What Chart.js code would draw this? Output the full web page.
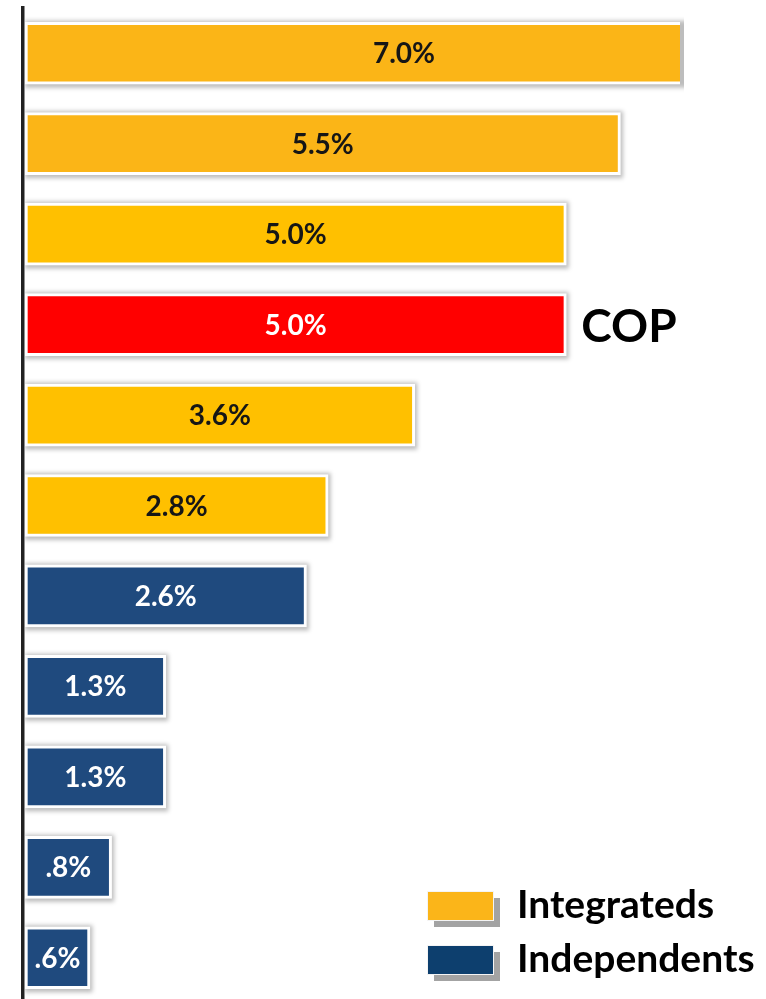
<!DOCTYPE html>
<html>
<head>
<meta charset="utf-8">
<script src="https://cdn.jsdelivr.net/npm/chart.js@4/dist/chart.umd.min.js"></script>
<style>
  html, body { margin: 0; padding: 0; background: #ffffff; overflow: hidden; }
  #wrap { width: 766px; height: 1010px; }
</style>
</head>
<body>
<div id="wrap"><canvas id="chart" width="766" height="1010"></canvas></div>
<script>
// Peer group, ranked from highest to lowest
const companies = ['Peer A', 'Peer B', 'Peer C', 'COP', 'Peer D', 'Peer E',
                   'Peer F', 'Peer G', 'Peer H', 'Peer I', 'Peer J'];

// Values in percent
const integratedValues  = [7.0, 5.5, 5.0, 5.0, 3.6, 2.8, null, null, null, null, null];
const independentValues = [null, null, null, null, null, null, 2.6, 1.3, 1.3, 0.8, 0.6];

const highlighted = 'COP';

// Styling
const integratedColors = ['#FBB517', '#FBB517', '#FFC000', '#FF0000', '#FFC000', '#FFC000',
                          '#FFC000', '#FFC000', '#FFC000', '#FFC000', '#FFC000'];
const integratedTextColors = ['#161616', '#161616', '#161616', '#FFFFFF', '#161616', '#161616',
                              '#161616', '#161616', '#161616', '#161616', '#161616'];
const independentColor = '#1F4A7E';
const legendSwatches = { Integrateds: '#FBB519', Independents: '#0D3F6E' };

const FONT = 'Lato, "Open Sans", "DejaVu Sans", sans-serif';

function formatPct(v) {
  const s = v.toFixed(1);
  return (v < 1 ? s.replace(/^0/, '') : s) + '%';
}

// soft drop shadow under each bar
const barShadows = {
  id: 'barShadows',
  beforeDatasetsDraw(chart) {
    const { ctx, chartArea } = chart;
    ctx.save();
    ctx.beginPath();
    ctx.rect(chartArea.left, 0, chartArea.right - chartArea.left + 4, chart.height);
    ctx.clip();
    ctx.filter = 'blur(2px)';
    ctx.fillStyle = 'rgba(0,0,0,0.26)';
    chart.data.datasets.forEach((ds, di) => {
      const meta = chart.getDatasetMeta(di);
      meta.data.forEach((el, i) => {
        if (ds.data[i] == null) return;
        const { x, y, base, height } = el.getProps(['x', 'y', 'base', 'height'], true);
        const left = Math.min(x, base), right = Math.max(x, base);
        ctx.fillRect(left, y - height / 2 - 1.5, right - left + 2.5, height + 5);
      });
    });
    ctx.restore();
  }
};

// category axis line, kept just left of the bars
const axisLine = {
  id: 'axisLine',
  afterDatasetsDraw(chart) {
    const { ctx, chartArea } = chart;
    ctx.save();
    ctx.fillStyle = '#222222';
    ctx.fillRect(chartArea.left - 4, chartArea.top - 2, 3.5, chart.height);
    ctx.restore();
  }
};

// value labels inside the bars, name tag beside the highlighted bar
const barLabels = {
  id: 'barLabels',
  afterDatasetsDraw(chart) {
    const { ctx } = chart;
    ctx.save();
    chart.data.datasets.forEach((ds, di) => {
      const meta = chart.getDatasetMeta(di);
      meta.data.forEach((el, i) => {
        const v = ds.data[i];
        if (v == null) return;
        const { x, y, base } = el.getProps(['x', 'y', 'base'], true);
        ctx.font = 'bold 28px ' + FONT;
        ctx.textAlign = 'center';
        ctx.textBaseline = 'middle';
        ctx.fillStyle = Array.isArray(ds.textColor) ? ds.textColor[i] : ds.textColor;
        ctx.fillText(formatPct(v), (x + base) / 2, y + 1);
        if (chart.data.labels[i] === highlighted) {
          ctx.font = 'bold 46px ' + FONT;
          ctx.textAlign = 'left';
          ctx.textBaseline = 'alphabetic';
          ctx.fillStyle = '#000000';
          ctx.fillText(highlighted, x + 15, y + 17);
        }
      });
    });
    ctx.restore();
  }
};

// boxed legend in the lower right corner
const cornerLegend = {
  id: 'cornerLegend',
  afterDraw(chart) {
    const { ctx } = chart;
    const x0 = 427, y0 = 891, sw = 66, sh = 29, gap = 54;
    ctx.save();
    chart.data.datasets.forEach((ds, i) => {
      const y = y0 + i * gap;
      ctx.fillStyle = '#A3A3A3';
      ctx.fillRect(x0 + 7, y + 7, sw, sh);
      ctx.fillStyle = '#F4F4F4';
      ctx.fillRect(x0, y, sw + 1, sh + 1);
      ctx.fillStyle = legendSwatches[ds.label];
      ctx.fillRect(x0 + 1, y + 1, sw - 1, sh - 1);
      ctx.font = 'bold 39px ' + FONT;
      ctx.textAlign = 'left';
      ctx.textBaseline = 'alphabetic';
      ctx.fillStyle = '#000000';
      ctx.fillText(ds.label, 517, y + 27);
    });
    ctx.restore();
  }
};

new Chart(document.getElementById('chart'), {
  type: 'bar',
  data: {
    labels: companies,
    datasets: [
      {
        label: 'Integrateds',
        data: integratedValues,
        backgroundColor: integratedColors,
        textColor: integratedTextColors,
        borderColor: '#FFFFFF',
        borderWidth: 3,
        borderSkipped: false,
        barThickness: 62
      },
      {
        label: 'Independents',
        data: independentValues,
        backgroundColor: independentColor,
        textColor: '#FFFFFF',
        borderColor: '#FFFFFF',
        borderWidth: 3,
        borderSkipped: false,
        barThickness: 62
      }
    ]
  },
  options: {
    indexAxis: 'y',
    responsive: false,
    animation: false,
    layout: { padding: { left: 25, right: 86, top: 8, bottom: 7 } },
    scales: {
      x: { display: false, min: 0, max: 6.05, stacked: true },
      y: {
        stacked: true,
        ticks: { display: false },
        grid: { display: false },
        border: { display: false },
        afterFit(scale) { scale.width = 0; }
      }
    },
    plugins: {
      legend: { display: false },
      tooltip: { enabled: false }
    }
  },
  plugins: [barShadows, axisLine, barLabels, cornerLegend]
});
</script>
</body>
</html>
